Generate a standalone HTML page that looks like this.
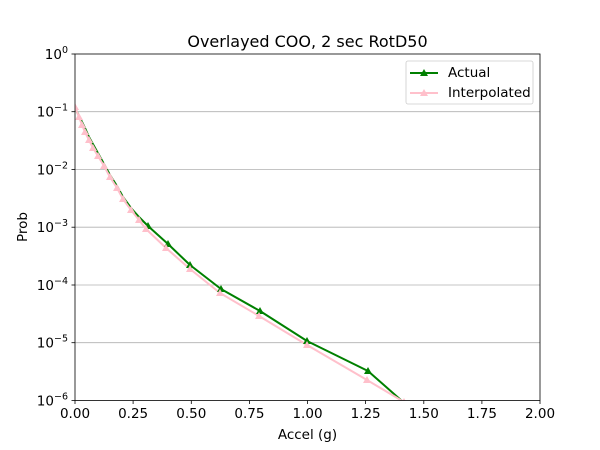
<!DOCTYPE html>
<html><head><meta charset="utf-8"><style>body{margin:0;background:#fff}svg{display:block}text{font-family:"DejaVu Sans","Liberation Sans",sans-serif;fill:#000}</style></head><body>
<svg width="600" height="450" viewBox="0 0 600 450">
<rect width="600" height="450" fill="#fff"/>
<defs><clipPath id="c"><rect x="75" y="54" width="465" height="346.5"/></clipPath></defs>
<g stroke="#b0b0b0" stroke-width="0.8">
<line x1="75" x2="540" y1="111.7" y2="111.7"/><line x1="75" x2="540" y1="169.5" y2="169.5"/><line x1="75" x2="540" y1="227.2" y2="227.2"/><line x1="75" x2="540" y1="285" y2="285"/><line x1="75" x2="540" y1="342.7" y2="342.7"/>
</g>
<g clip-path="url(#c)" fill="none" stroke-linejoin="round">
<polyline stroke="green" stroke-width="2" points="75,108 80,118 85,128 89,137 94,146 99,155 104,164 110,175 117,186 123,197 131,208 139,217 148,226 168,244 190,265 221,289 260,311 307,341 368,371 402,401"/>
<polyline stroke="pink" stroke-width="2" points="75,107 79,117 82,125 85,132 89,140 93,148 98,156 104,166 110,177 117,188 123,199 131,210 139,220 146,229 166,248 190,269 220,293 259,316 307,345 367,380 404,402"/>
<g fill="green" stroke="none">
<path d="M148,222l4,7h-8z M168,240l4,7h-8z M190,261l4,7h-8z M221,285l4,7h-8z M260,307l4,7h-8z M307,337l4,7h-8z M368,367l4,7h-8z"/>
</g>
<g fill="pink" stroke="none">
<path d="M75,103l4,7h-8z M79,113l4,7h-8z M82,121l4,7h-8z M85,128l4,7h-8z M89,136l4,7h-8z M93,144l4,7h-8z M98,152l4,7h-8z M104,162l4,7h-8z M110,173l4,7h-8z M117,184l4,7h-8z M123,195l4,7h-8z M131,206l4,7h-8z M139,216l4,7h-8z M146,225l4,7h-8z M166,244l4,7h-8z M190,265l4,7h-8z M220,289l4,7h-8z M259,312l4,7h-8z M307,341l4,7h-8z M367,376l4,7h-8z M404,398l4,7h-8z"/>
</g>
</g>
<rect x="75" y="54" width="465" height="346.5" fill="none" stroke="#000" stroke-width="0.8"/>
<g stroke="#000" stroke-width="0.8">
<line x1="75" x2="75" y1="400.5" y2="404"/><line x1="133.1" x2="133.1" y1="400.5" y2="404"/><line x1="191.3" x2="191.3" y1="400.5" y2="404"/><line x1="249.4" x2="249.4" y1="400.5" y2="404"/><line x1="307.5" x2="307.5" y1="400.5" y2="404"/><line x1="365.6" x2="365.6" y1="400.5" y2="404"/><line x1="423.8" x2="423.8" y1="400.5" y2="404"/><line x1="481.9" x2="481.9" y1="400.5" y2="404"/><line x1="540" x2="540" y1="400.5" y2="404"/>
<line x1="71.5" x2="75" y1="54" y2="54"/><line x1="71.5" x2="75" y1="111.7" y2="111.7"/><line x1="71.5" x2="75" y1="169.5" y2="169.5"/><line x1="71.5" x2="75" y1="227.2" y2="227.2"/><line x1="71.5" x2="75" y1="285" y2="285"/><line x1="71.5" x2="75" y1="342.7" y2="342.7"/><line x1="71.5" x2="75" y1="400.5" y2="400.5"/>
</g>
<g stroke="#000" stroke-width="0.6" id="minor"></g>
<g font-size="13.5" text-anchor="middle">
<text x="75" y="418">0.00</text><text x="133.1" y="418">0.25</text><text x="191.3" y="418">0.50</text><text x="249.4" y="418">0.75</text><text x="307.5" y="418">1.00</text><text x="365.6" y="418">1.25</text><text x="423.8" y="418">1.50</text><text x="481.9" y="418">1.75</text><text x="540" y="418">2.00</text>
<text x="307.5" y="439">Accel (g)</text>
<text x="307.5" y="47" font-size="16">Overlayed COO, 2 sec RotD50</text>
</g>
<g font-size="13.5" text-anchor="end">
<text x="68" y="59">10<tspan dy="-6" font-size="9.5">0</tspan></text>
<text x="68" y="116.7">10<tspan dy="-6" font-size="9.5">−1</tspan></text>
<text x="68" y="174.5">10<tspan dy="-6" font-size="9.5">−2</tspan></text>
<text x="68" y="232.2">10<tspan dy="-6" font-size="9.5">−3</tspan></text>
<text x="68" y="290">10<tspan dy="-6" font-size="9.5">−4</tspan></text>
<text x="68" y="347.7">10<tspan dy="-6" font-size="9.5">−5</tspan></text>
<text x="68" y="405.5">10<tspan dy="-6" font-size="9.5">−6</tspan></text>
</g>
<text x="27" y="227" font-size="13.5" text-anchor="middle" transform="rotate(-90 27 227)">Prob</text>
<rect x="406" y="61" width="127" height="43" rx="2" fill="#fff" stroke="#ccc" stroke-width="0.8"/>
<line x1="410" x2="438" y1="73" y2="73" stroke="green" stroke-width="2"/><path d="M424,69l4,7h-8z" fill="green"/>
<line x1="410" x2="438" y1="93" y2="93" stroke="pink" stroke-width="2"/><path d="M424,89l4,7h-8z" fill="pink"/>
<text x="448" y="77" font-size="13.5">Actual</text>
<text x="448" y="97" font-size="13.5">Interpolated</text>
<script>
var g=document.getElementById('minor'),s='';
for(var d=0;d<6;d++){for(var k=2;k<10;k++){var y=54+57.75*(d+1)-57.75*Math.log10(k);s+='<line x1="73" x2="75" y1="'+y+'" y2="'+y+'"/>';}}
g.innerHTML=s;
</script>
</svg>
</body></html>
